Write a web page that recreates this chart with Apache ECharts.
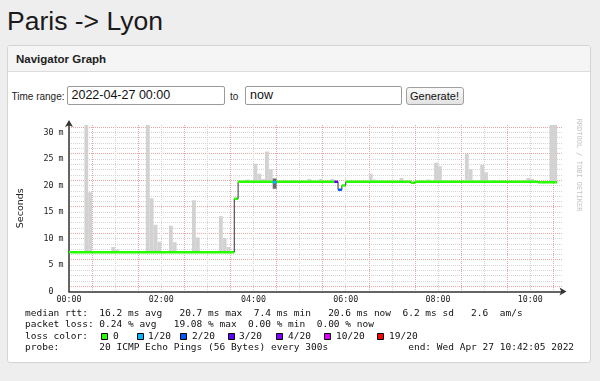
<!DOCTYPE html>
<html><head><meta charset="utf-8">
<script src="https://cdn.jsdelivr.net/npm/echarts@6/dist/echarts.min.js"></script>
<style>
html,body{margin:0;padding:0;width:600px;height:381px;overflow:hidden;background:#eeeeee;font-family:"Liberation Sans",Arial,sans-serif;}
.abs{position:absolute;white-space:nowrap;box-sizing:border-box;}
#title{left:7px;top:6px;font-size:26.5px;line-height:30px;color:#1a1a1a;}
#panel{left:7px;top:45px;width:584px;height:318px;background:#fff;border:1px solid #d4d4d4;border-radius:3px;}
#head{left:8px;top:46px;width:582px;height:26px;background:#f5f5f5;border-bottom:1px solid #dcdcdc;border-radius:2px 2px 0 0;}
#htext{left:16px;top:52px;font-size:11.5px;line-height:14px;font-weight:bold;color:#222;}
.lbl{top:90.5px;font-size:10px;line-height:12px;color:#222;}
.inp{top:86px;height:19px;border:1px solid #9a9a9a;border-radius:2px;background:#fff;font-size:12.5px;line-height:17px;padding-left:4px;color:#111;}
#in1{left:66.5px;width:158px;}
#in2{left:245px;width:157px;}
#btn{left:405.5px;top:87px;width:58px;height:18px;border:1px solid #a0a0a0;border-radius:3px;background:linear-gradient(#fafafa,#e2e2e2);font-size:11px;line-height:16px;text-align:center;color:#111;}
#chart{left:8px;top:110px;width:582px;height:253px;}
</style></head>
<body>
<div class="abs" id="title">Paris -&gt; Lyon</div>
<div class="abs" id="panel"></div>
<div class="abs" id="head"></div>
<div class="abs" id="htext">Navigator Graph</div>
<div class="abs lbl" style="left:11.5px">Time range:</div>
<div class="abs inp" id="in1">2022-04-27 00:00</div>
<div class="abs lbl" style="left:230px">to</div>
<div class="abs inp" id="in2">now</div>
<div class="abs" id="btn">Generate!</div>
<div class="abs" id="chart"></div>
<script>
// ---------- data ----------
const xTickLabels = ["00:00", "02:00", "04:00", "06:00", "08:00", "10:00"];
const yTickLabels = ["0  ", "5 m", "10 m", "15 m", "20 m", "25 m", "30 m"];

// median RTT (ms), step runs: start time, value, lost pings (of 20)
const medianStart = ["00:00", "03:35", "03:40", "04:25", "04:30", "05:45", "05:50", "05:55", "06:00", "07:25", "07:30", "10:10", "10:15"];
const medianValue = [7.4, 17.5, 20.7, 20.6, 20.7, 20.7, 19.2, 20.0, 20.7, 20.5, 20.7, 20.6, 20.6];
const medianLoss  = [0, 0, 0, 1, 0, 3, 2, 0, 0, 0, 0, 0, 0];
const dataEnd = "10:35";

// smoke (ping spread), 5-minute steps
const smokeTime = ["00:20", "00:25", "00:55", "01:00", "01:40", "01:45", "01:50", "01:55", "02:10", "02:15", "02:40", "02:45", "03:15", "03:20", "03:25",
  "03:50", "04:00", "04:05", "04:10", "04:15", "04:20", "05:10", "05:25", "05:40", "06:30", "06:35", "07:10", "07:45", "07:55", "08:00", "08:05",
  "08:35", "08:40", "08:55", "09:00", "09:10", "09:55", "10:00", "10:25", "10:30"];
const smokeLow = [7.4, 7.4, 7.4, 7.4, 7.4, 7.4, 7.4, 7.4, 7.4, 7.4, 7.4, 7.4, 7.4, 7.4, 7.4,
  20.7, 20.7, 20.7, 20.7, 20.7, 20.7, 20.7, 20.7, 20.7, 20.7, 20.7, 20.7, 20.7, 20.7, 20.7, 20.7,
  20.7, 20.7, 20.7, 20.7, 20.7, 20.7, 20.7, 20.7, 20.7];
const smokeHigh = [40, 18.7, 8.4, 7.9, 40, 17.6, 12.6, 9.4, 12.4, 9.3, 17.2, 10.2, 14.2, 10.1, 8.4,
  21.1, 24.1, 22.2, 21.2, 26.4, 23.1, 21.2, 21.2, 21.2, 22.2, 21.1, 21.4, 21.1, 24.3, 23.6, 21.0,
  26.0, 23.1, 23.9, 22.5, 21.0, 21.4, 21.2, 40, 40];
const darkSmokeTime = ["04:25"];
const darkSmokeLow = [19.4];
const darkSmokeHigh = [21.3];

const lossThreshold = [0, 1, 2, 3, 4, 10, 19];
const lossLabels = ["0", "1/20", "2/20", "3/20", "4/20", "10/20", "19/20"];
const lossColors = ["#26ff00", "#00b8ff", "#0059ff", "#5e00ff", "#7e00ff", "#dd00ff", "#ff0000"];

const statLines = [
  "median rtt:  16.2 ms avg   20.7 ms max  7.4 ms min   20.6 ms now  6.2 ms sd   2.6  am/s",
  "packet loss: 0.24 % avg   19.08 % max  0.00 % min  0.00 % now",
  "loss color:",
  "probe:       20 ICMP Echo Pings (56 Bytes) every 300s              end: Wed Apr 27 10:42:05 2022"
];

// ---------- helpers ----------
const STEP = 5 / 60;
const toH = s => { const p = s.split(":"); return +p[0] + (+p[1]) / 60; };
const colorFor = n => { let c = lossColors[0]; lossThreshold.forEach((t, i) => { if (n >= t) c = lossColors[i]; }); return c; };
const MONO = "'DejaVu Sans Mono', monospace";

const medianRows = medianStart.map((s, i) => [
  toH(s),
  i + 1 < medianStart.length ? toH(medianStart[i + 1]) : toH(dataEnd),
  medianValue[i],
  i > 0 ? medianValue[i - 1] : medianValue[i],
  medianLoss[i]
]);

function smokeSeries(times, lows, highs, color) {
  return {
    type: 'custom', clip: true, z: 3, silent: true,
    data: times.map((t, i) => [toH(t), lows[i], highs[i]]),
    encode: { x: 0, y: [1, 2] },
    renderItem(params, api) {
      const t = api.value(0), lo = api.value(1), hi = api.value(2);
      const p0 = api.coord([t, lo]), p1 = api.coord([t + STEP, hi]);
      const top = Math.max(p1[1], params.coordSys.y);
      return { type: 'rect', shape: { x: p0[0], y: top, width: p1[0] - p0[0], height: p0[1] - top }, style: { fill: color } };
    }
  };
}

// legend layout (chart-div coordinates)
const boxX = [93, 129, 172, 220, 268, 316, 369];
const labX = [105, 140, 184, 231, 280, 328, 381];
const graphics = [];
statLines.forEach((s, i) => {
  graphics.push({ type: 'text', x: 17, y: [203.3, 214.8, 226.2, 237.7][i], style: { text: s, font: "9.5px " + MONO, fill: '#111', verticalAlign: 'middle' } });
});
lossLabels.forEach((l, i) => {
  graphics.push({ type: 'rect', shape: { x: boxX[i] + 0.5, y: 223.5, width: 6, height: 6 }, style: { fill: lossColors[i], stroke: '#000', lineWidth: 1 } });
  graphics.push({ type: 'text', x: labX[i], y: 226.2, style: { text: l, font: "9.5px " + MONO, fill: '#111', verticalAlign: 'middle' } });
});
graphics.push({ type: 'text', x: 571, y: 55, rotation: -Math.PI / 2, style: { text: 'RRDTOOL / TOBI OETIKER', font: "7px " + MONO, fill: '#c4c4c4', align: 'center', verticalAlign: 'middle' } });

const chart = echarts.init(document.getElementById('chart'), null, { renderer: 'canvas' });
chart.setOption({
  backgroundColor: 'transparent',
  animation: false,
  grid: { left: 59.5, right: 27.5, top: 15, bottom: 71.5, containLabel: false },
  xAxis: {
    type: 'value', min: 0, max: 10.7, interval: 0.5,
    axisLine: { show: true, lineStyle: { color: '#333', width: 1.5 }, symbol: ['none', 'arrow'], symbolSize: [6, 7], symbolOffset: [0, 4] },
    axisTick: { show: false },
    axisLabel: {
      interval: 0, margin: 4, color: '#1a1a1a', fontFamily: MONO, fontSize: 8.3,
      showMaxLabel: false,
      formatter: v => (Math.abs(v % 2) < 1e-6 ? (xTickLabels[Math.round(v / 2)] || '') : '')
    },
    splitLine: { show: true, showMinLine: false, showMaxLine: false, lineStyle: { color: ['#eaa6a6', '#d4d4d4'], width: 1, type: [1, 1] } }
  },
  yAxis: {
    type: 'value', min: 0, max: 31.4, interval: 1,
    name: 'Seconds', nameLocation: 'middle', nameGap: 43, nameRotate: 90,
    nameTextStyle: { fontFamily: "'DejaVu Sans', sans-serif", fontSize: 9.5, color: '#222' },
    axisLine: { show: true, lineStyle: { color: '#333', width: 1.5 }, symbol: ['none', 'arrow'], symbolSize: [6, 7], symbolOffset: [0, 5] },
    axisTick: { show: false },
    axisLabel: {
      interval: 0, margin: 5.5, color: '#1a1a1a', fontFamily: MONO, fontSize: 8.3,
      showMaxLabel: false,
      formatter: v => (Math.abs(v % 5) < 1e-6 ? (yTickLabels[Math.round(v / 5)] || '') : '')
    },
    splitLine: { show: true, showMinLine: false, showMaxLine: false, lineStyle: { color: ['#eaa6a6', '#d4d4d4', '#d4d4d4', '#d4d4d4', '#d4d4d4'], width: 1, type: [1, 1] } }
  },
  series: [
    smokeSeries(smokeTime, smokeLow, smokeHigh, '#d2d2d2'),
    smokeSeries(darkSmokeTime, darkSmokeLow, darkSmokeHigh, '#6a6a6a'),
    {
      type: 'custom', clip: true, z: 5, silent: true,
      data: medianRows,
      encode: { x: [0, 1], y: 2 },
      renderItem(params, api) {
        const t0 = api.value(0), t1 = api.value(1), v = api.value(2), pv = api.value(3), loss = api.value(4);
        const a = api.coord([t0, v]), b = api.coord([t1, v]);
        const children = [];
        if (pv !== v) {
          const c = api.coord([t0, pv]);
          children.push({ type: 'line', shape: { x1: a[0], y1: c[1], x2: a[0], y2: a[1] }, style: { stroke: '#333', lineWidth: 1 } });
        }
        children.push({ type: 'line', shape: { x1: a[0], y1: a[1], x2: b[0], y2: b[1] }, style: { stroke: colorFor(loss), lineWidth: 2.5 } });
        return { type: 'group', children };
      }
    }
  ],
  graphic: graphics
});
</script>
</body></html>
